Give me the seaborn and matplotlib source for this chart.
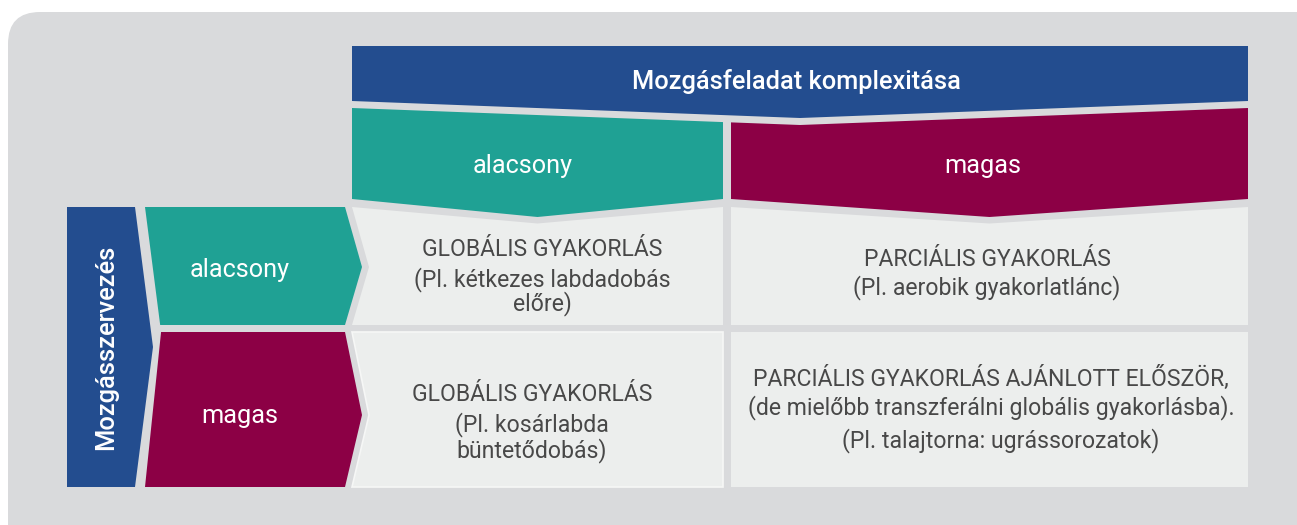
import matplotlib
matplotlib.use("Agg")
import matplotlib.pyplot as plt
from matplotlib.patches import Polygon, FancyBboxPatch
import seaborn as sns

# ---------------- data (text content) ----------------
title = "Mozgásfeladat komplexitása"
row_title = "Mozgásszervezés"
col_labels = ["alacsony", "magas"]
row_labels = ["alacsony", "magas"]
cell_lines = [
    [["GLOBÁLIS GYAKORLÁS", "(Pl. kétkezes labdadobás", "előre)"],
     ["PARCIÁLIS GYAKORLÁS", "(Pl. aerobik gyakorlatlánc)"]],
    [["GLOBÁLIS GYAKORLÁS", "(Pl. kosárlabda", "büntetődobás)"],
     ["PARCIÁLIS GYAKORLÁS AJÁNLOTT ELŐSZÖR,",
      "(de mielőbb transzferálni globális gyakorlásba).",
      "(Pl. talajtorna: ugrássorozatok)"]],
]

# ---------------- styles ----------------
BLUE = "#234d8f"
TEAL = "#1fa194"
MAGENTA = "#8c0045"
PANEL = "#d9dadc"
CELL = "#eceeed"
TEXT = "#484848"
level_colors = [TEAL, MAGENTA]

sns.set_theme(style="white")
plt.rcParams["font.family"] = ["Roboto", "DejaVu Sans"]

W, H = 1297, 525
fig = plt.figure(figsize=(W / 100, H / 100), dpi=100)
ax = fig.add_axes([0, 0, 1, 1])
ax.set_xlim(0, W)
ax.set_ylim(H, 0)
ax.axis("off")
fig.patch.set_facecolor("white")

# ---------------- layout ----------------
col_x = [(352, 723), (731, 1248)]
row_y = [(207, 325), (332, 487)]
band_top, band_bot, band_dip = 46, 101, 17
hdr_gap = 7
hdr_bot, hdr_dip = 199, 18
notch = 17
row_tip_y = [267, 415]
bar_x0, bar_x1, bar_tip = 67, 135, 18
rh_x1 = 345

band_mid = (col_x[0][0] + col_x[1][1]) / 2


def band_y(x, off=0):
    """y of the lower V edge of the title band (+offset)."""
    half = (col_x[1][1] - col_x[0][0]) / 2
    return band_bot + off + band_dip * (1 - abs(x - band_mid) / half)


# background panel
ax.add_patch(FancyBboxPatch((8, 12), 1290 + 40, 600, boxstyle="round,pad=0,rounding_size=32",
                            fc=PANEL, ec="none", zorder=0))

# title band
ax.add_patch(Polygon([(col_x[0][0], band_top), (col_x[1][1], band_top),
                      (col_x[1][1], band_y(col_x[1][1])), (band_mid, band_y(band_mid)),
                      (col_x[0][0], band_y(col_x[0][0]))], closed=True, fc=BLUE, ec="none", zorder=2))
ax.text(band_mid - 4, 89, title, color="white", fontsize=18.3, fontweight="medium",
        ha="center", va="baseline", zorder=5)

# column headers
for j, (x0, x1) in enumerate(col_x):
    xm = (x0 + x1) / 2
    top = [(x0, band_y(x0, hdr_gap))]
    if x0 < band_mid < x1:
        top.append((band_mid, band_y(band_mid, hdr_gap)))
    top.append((x1, band_y(x1, hdr_gap)))
    pts = top + [(x1, hdr_bot), (xm, hdr_bot + hdr_dip), (x0, hdr_bot)]
    ax.add_patch(Polygon(pts, closed=True, fc=level_colors[j], ec="none", zorder=2))
    ax.text(xm - 15 if j == 0 else xm - 7, 172.5, col_labels[j], color="white", fontsize=18.2,
            ha="center", va="baseline", zorder=5)

# vertical row-title bar
y0, y1 = row_y[0][0], row_y[1][1]
ym = (y0 + y1) / 2
ax.add_patch(Polygon([(bar_x0, y0), (bar_x1, y0), (bar_x1 + bar_tip, ym), (bar_x1, y1), (bar_x0, y1)],
                     closed=True, fc=BLUE, ec="none", zorder=2))
ax.text(106, ym, row_title, color="white", fontsize=18.4, fontweight="medium", rotation=90,
        ha="center", va="center", zorder=5)


def bar_edge(y):
    if y <= ym:
        return bar_x1 + bar_tip * (y - y0) / (ym - y0)
    return bar_x1 + bar_tip * (y1 - y) / (y1 - ym)


# row headers
row_text_base = [277.5, 422.5]
for i, (ry0, ry1) in enumerate(row_y):
    tip = row_tip_y[i]
    pts = [(bar_edge(ry0) + 10, ry0), (rh_x1, ry0), (rh_x1 + notch, tip), (rh_x1, ry1),
           (bar_edge(ry1) + 10, ry1)]
    ax.add_patch(Polygon(pts, closed=True, fc=level_colors[i], ec="none", zorder=2))
    ax.text(240, row_text_base[i], row_labels[i], color="white", fontsize=18.2,
            ha="center", va="baseline", zorder=5)

# body cells
for i, (ry0, ry1) in enumerate(row_y):
    for j, (x0, x1) in enumerate(col_x):
        xm = (x0 + x1) / 2
        if i == 0:
            top = [(x0, ry0), (xm, ry0 + 16.5), (x1, ry0)]
        else:
            top = [(x0, ry0), (x1, ry0)]
        pts = top + [(x1, ry1), (x0, ry1)]
        if j == 0:
            pts.append((x0 + notch, row_tip_y[i]))
        ax.add_patch(Polygon(pts, closed=True, fc=CELL,
                             ec="#f6f7f6" if (i == 1 and j == 0) else "none", lw=1.2, zorder=2))

# cell text (baselines and centres per line)
cell_base = [[[256, 286, 310], [266, 294]],
             [[401, 431, 457], [386, 414, 447]]]
cell_cx = [[[542, 542, 542], [987, 987]],
           [[532, 532, 532], [991, 991, 1001]]]
for i in range(2):
    for j in range(2):
        for k, line in enumerate(cell_lines[i][j]):
            ax.text(cell_cx[i][j][k], cell_base[i][j][k], line, color=TEXT, fontsize=16.6,
                    ha="center", va="baseline", zorder=5)

fig.savefig("out.png", dpi=100, facecolor="white")
